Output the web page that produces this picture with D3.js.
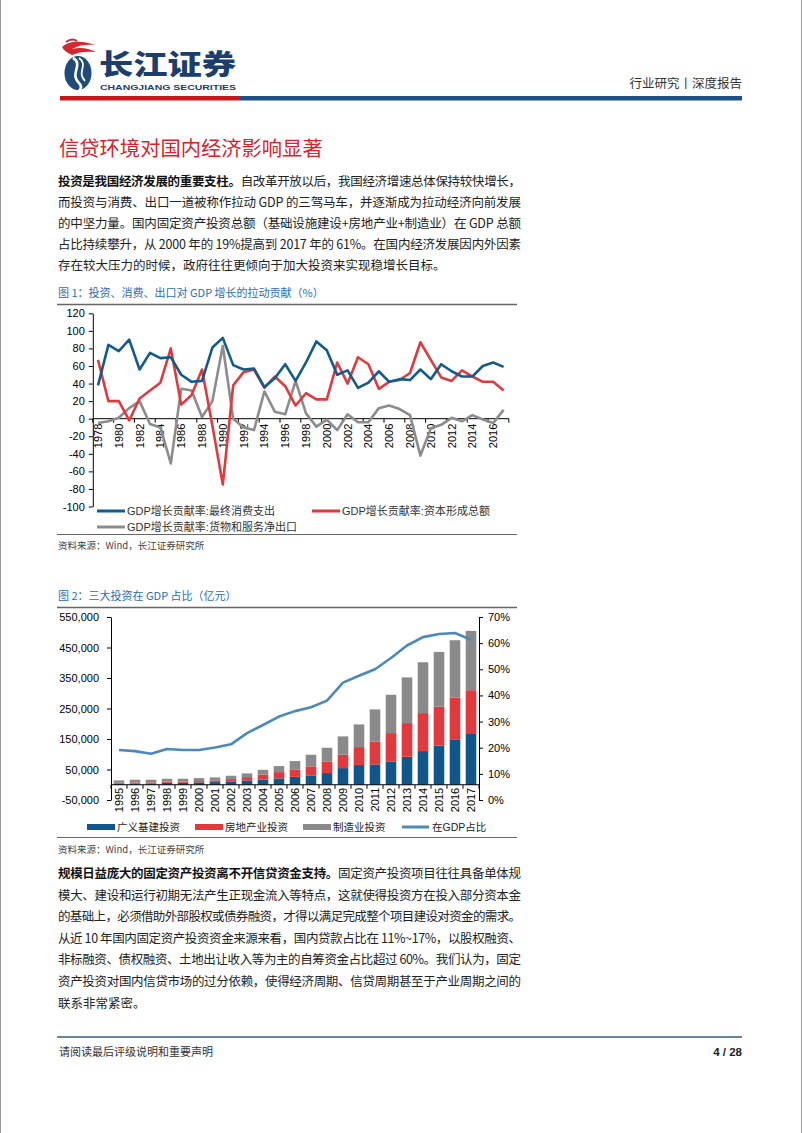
<!DOCTYPE html>
<html><head><meta charset="utf-8">
<script src="https://cdn.jsdelivr.net/npm/d3@7"></script>
<style>
html,body{margin:0;padding:0;background:#fff;}
svg{display:block;}
</style></head>
<body>
<svg id="page" width="802" height="1133"></svg>
<script>
// ---------------- DATA ----------------
const years1 = [1978,1979,1980,1981,1982,1983,1984,1985,1986,1987,1988,1989,1990,1991,1992,1993,1994,1995,1996,1997,1998,1999,2000,2001,2002,2003,2004,2005,2006,2007,2008,2009,2010,2011,2012,2013,2014,2015,2016,2017];
const consumption = [38,84,77,90,56,75,69,70,50,42,43,81,92,61,56,57,36,46,62,43,64,88,78,50,55,35,41,54,42,45,44,56,45,62,54,48,48,60,64,59];
const capitalFormation = [67,20,20,-2,23,32,41,80,16,27,56,-8,-75,38,53,56,35,48,37,15,29,22,22,64,40,70,62,34,42,44,52,87,67,47,43,55,48,42,42,32];
const netExports = [-5,-3,1,12,20,-6,-10,-51,34,32,2,20,83,0,-10,-13,31,8,5,43,6,-9,-1,-13,5,-4,-4,12,15,11,4,-42,-11,-7,1,-3,4,-1,-5,10];
const yTicks1 = [-100,-80,-60,-40,-20,0,20,40,60,80,100,120];
const series1Names = ["GDP增长贡献率:最终消费支出","GDP增长贡献率:资本形成总额","GDP增长贡献率:货物和服务净出口"];

const years2 = [1995,1996,1997,1998,1999,2000,2001,2002,2003,2004,2005,2006,2007,2008,2009,2010,2011,2012,2013,2014,2015,2016,2017];
const infra = [3300,4400,4400,6500,6500,7600,8700,11000,14200,16400,20800,26000,30600,38300,54600,64500,66700,76500,91800,110400,128500,149000,169000];
const realEstate = [3200,3200,3200,3300,3300,4400,5500,7600,10800,16600,20700,23000,29500,37100,43800,59000,75300,92900,110400,124600,127500,137000,141000];
const manufacturing = [7700,8800,8800,9900,9900,9900,9800,10900,12200,16000,19700,28600,38300,45900,60100,74300,105000,125600,149800,166700,179600,187900,194500];
const gdpShare = [19.1,18.7,17.7,19.5,19.1,19.1,20.1,21.3,25.6,28.7,31.9,34.0,35.5,38.0,44.9,47.5,50.0,54.3,59.1,62.3,63.5,63.9,61.3];
const yTicksLeft2 = [-50000,50000,150000,250000,350000,450000,550000];
const yTicksRight2 = [0,10,20,30,40,50,60,70];
const series2Names = ["广义基建投资","房地产业投资","制造业投资","在GDP占比"];

const titleText = "信贷环境对国内经济影响显著";
const para1Bold = "投资是我国经济发展的重要支柱。";
const para1Lines = [
  "自改革开放以后，我国经济增速总体保持较快增长，",
  "而投资与消费、出口一道被称作拉动 GDP 的三驾马车，并逐渐成为拉动经济向前发展",
  "的中坚力量。国内固定资产投资总额（基础设施建设+房地产业+制造业）在 GDP 总额",
  "占比持续攀升，从 2000 年的 19%提高到 2017 年的 61%。在国内经济发展因内外因素",
  "存在较大压力的时候，政府往往更倾向于加大投资来实现稳增长目标。"
];
const para2Bold = "规模日益庞大的固定资产投资离不开信贷资金支持。";
const para2Lines = [
  "固定资产投资项目往往具备单体规",
  "模大、建设和运行初期无法产生正现金流入等特点，这就使得投资方在投入部分资本金",
  "的基础上，必须借助外部股权或债券融资，才得以满足完成整个项目建设对资金的需求。",
  "从近 10 年国内固定资产投资资金来源来看，国内贷款占比在 11%~17%，以股权融资、",
  "非标融资、债权融资、土地出让收入等为主的自筹资金占比超过 60%。我们认为，固定",
  "资产投资对国内信贷市场的过分依赖，使得经济周期、信贷周期甚至于产业周期之间的",
  "联系非常紧密。"
];
const fig1Caption = "图 1：投资、消费、出口对 GDP 增长的拉动贡献（%）";
const fig2Caption = "图 2：三大投资在 GDP 占比（亿元）";
const sourceText = "资料来源：Wind，长江证券研究所";

// ---------------- PAGE ----------------
const FONT = "'Liberation Sans', Arial, 'Noto Sans CJK SC', sans-serif";
const svg = d3.select("#page").style("font-family", FONT);

// page edges
svg.append("line").attr("x1",0.5).attr("x2",0.5).attr("y1",0).attr("y2",1133).attr("stroke","#9a9a9a");
svg.append("line").attr("x1",801.5).attr("x2",801.5).attr("y1",0).attr("y2",1133).attr("stroke","#9a9a9a");

// logo
const logo = svg.append("g");
logo.append("path").attr("d","M62,47 C70,40 82,41 95,45 C86,44 78,45 72,49 C80,47 88,48 96,52 C86,51 78,52 72,55 C68,53 64,51 62,47 Z").attr("fill","#d7262c");
logo.append("path").attr("d","M66,42 C70,39 74,39 77,41").attr("stroke","#d7262c").attr("stroke-width",2).attr("fill","none");
logo.append("ellipse").attr("cx",78).attr("cy",73).attr("rx",13.5).attr("ry",17).attr("fill","#1f4a7a");
logo.append("path").attr("d","M73,58 C84,64 69,74 79,83 C82,86 81,89 79,91").attr("stroke","#fff").attr("stroke-width",2.6).attr("fill","none");
logo.append("path").attr("d","M79,58 C89,65 76,72 85,81").attr("stroke","#fff").attr("stroke-width",1.8).attr("fill","none");
logo.append("text").attr("x",99).attr("y",75).attr("font-size",28).attr("font-weight",900)
  .attr("font-family","'Noto Sans CJK SC', sans-serif").attr("fill","#1c3e6c")
  .attr("textLength",137).attr("lengthAdjust","spacingAndGlyphs").text("长江证券");
logo.append("text").attr("x",100).attr("y",90).attr("font-size",8).attr("font-weight",700)
  .attr("fill","#1c3e6c").attr("textLength",136).attr("lengthAdjust","spacingAndGlyphs").text("CHANGJIANG SECURITIES");

svg.append("text").attr("x",742).attr("y",88).attr("text-anchor","end").attr("font-size",12.5)
  .attr("font-family","'Noto Sans CJK SC', sans-serif").attr("fill","#333").text("行业研究丨深度报告");

svg.append("rect").attr("x",60).attr("y",96).attr("width",180).attr("height",4.5).attr("fill","#c8161d");
svg.append("rect").attr("x",240).attr("y",96).attr("width",502).attr("height",4.5).attr("fill","#1b4f86");

// title
svg.append("text").attr("x",59).attr("y",156).attr("font-size",20.3).attr("fill","#d9232b")
  .attr("font-family","'Noto Sans CJK SC', sans-serif").text(titleText);

// paragraphs
const TX0 = 58, TW = 463;
function paragraph(boldPart, lines, y0, lh){
  lines.forEach((ln,i)=>{
    const t = svg.append("text").attr("x",TX0).attr("y",y0+i*lh).attr("font-size",12.5).attr("fill","#222")
      .attr("font-family","'Noto Sans CJK SC', sans-serif");
    if(i===0){ t.append("tspan").attr("font-weight",700).attr("fill","#111").text(boldPart); }
    t.append("tspan").text(ln);
    if(i < lines.length-1){ t.attr("textLength",TW).attr("lengthAdjust","spacing"); }
  });
}
paragraph(para1Bold, para1Lines, 186, 21);
paragraph(para2Bold, para2Lines, 878, 21.6);

// figure captions / rules
function caption(txt, y){
  svg.append("text").attr("x",58).attr("y",y).attr("font-size",11).attr("fill","#2a6db3")
    .attr("font-family","'Noto Sans CJK SC', sans-serif").text(txt);
}
function rule(y, w){ svg.append("line").attr("x1",57).attr("x2",517).attr("y1",y).attr("y2",y).attr("stroke","#666").attr("stroke-width",w); }
function source(y){
  svg.append("text").attr("x",58).attr("y",y).attr("font-size",9.5).attr("fill","#444")
    .attr("font-family","'Noto Sans CJK SC', sans-serif").text(sourceText);
}
caption(fig1Caption, 297);
rule(304.5, 1.5);
rule(534.5, 1.2);
source(549);
caption(fig2Caption, 600);
rule(607.5, 1.5);
rule(837.5, 1.2);
source(853);

// ---------------- CHART 1 ----------------
const c1 = svg.append("g");
const x1 = d3.scaleBand().domain(years1).range([92.8, 508.8]);
const cx1 = d => x1(d) + x1.bandwidth()/2;
const y1 = d3.scaleLinear().domain([-100,120]).range([506.5, 313.3]);
const fmtNum = d => (d<0?"-":"") + d3.format(",")(Math.abs(d));

const ax1 = c1.append("g").attr("transform","translate(92.8,0)")
  .call(d3.axisLeft(y1).tickValues(yTicks1).tickSize(4).tickSizeOuter(0).tickFormat(fmtNum));
ax1.selectAll("text").attr("font-size",11).attr("font-family",FONT).attr("fill","#000").attr("dx",-1);
ax1.select(".domain").attr("stroke","#000");
// x axis at 0
const y0 = y1(0);
c1.append("line").attr("x1",92.8).attr("x2",508.8).attr("y1",y0).attr("y2",y0).attr("stroke","#000");
years1.forEach((yr,i)=>{
  if(i%2===0){
    c1.append("line").attr("x1",x1(yr)).attr("x2",x1(yr)).attr("y1",y0).attr("y2",y0+4).attr("stroke","#000");
    c1.append("text").attr("transform",`translate(${cx1(yr)+4},${y0+5}) rotate(-90)`)
      .attr("text-anchor","end").attr("font-size",11).attr("fill","#000").text(yr);
  }
});
c1.append("line").attr("x1",508.8).attr("x2",508.8).attr("y1",y0).attr("y2",y0+4).attr("stroke","#000");

const colors1 = ["#125b8c","#e0393e","#8c8c8c"];
const seriesData1 = [consumption, capitalFormation, netExports];
const line1 = d3.line().x((d,i)=>cx1(years1[i])).y(d=>y1(d));
[2,1,0].forEach(k=>{
  c1.append("path").datum(seriesData1[k]).attr("d",line1).attr("fill","none")
    .attr("stroke",colors1[k]).attr("stroke-width",2.6).attr("stroke-linejoin","round");
});
// legend 1
const leg1 = [[97,511],[312,511],[97,527]];
leg1.forEach((p,k)=>{
  c1.append("line").attr("x1",p[0]).attr("x2",p[0]+28).attr("y1",p[1]).attr("y2",p[1]).attr("stroke",colors1[k]).attr("stroke-width",3);
  c1.append("text").attr("x",p[0]+30).attr("y",p[1]+4).attr("font-size",11).attr("fill","#333").text(series1Names[k]);
});

// ---------------- CHART 2 ----------------
const c2 = svg.append("g");
const x2 = d3.scaleBand().domain(years2).range([111, 479]).paddingInner(0.34).paddingOuter(0.17);
const step2 = x2.step();
const y2 = d3.scaleLinear().domain([-50000, 550000]).range([800, 617]);
const yR = d3.scaleLinear().domain([0, 70]).range([800, 617]);

const table2 = years2.map((yr,i)=>({year:yr, infra:infra[i], realEstate:realEstate[i], manufacturing:manufacturing[i]}));
const keys2 = ["infra","realEstate","manufacturing"];
const colors2 = ["#0f5689","#e2393f","#8a8a8a"];
const stack = d3.stack().keys(keys2)(table2);
stack.forEach((layer,k)=>{
  c2.append("g").selectAll("rect").data(layer).join("rect")
    .attr("x",d=>x2(d.data.year)).attr("width",x2.bandwidth())
    .attr("y",d=>y2(d[1])).attr("height",d=>y2(d[0])-y2(d[1]))
    .attr("fill",colors2[k]);
});

const axL = c2.append("g").attr("transform","translate(111,0)")
  .call(d3.axisLeft(y2).tickValues(yTicksLeft2).tickSize(4).tickSizeOuter(0).tickFormat(fmtNum));
axL.selectAll("text").attr("font-size",11).attr("font-family",FONT).attr("fill","#000").attr("dx",-5);
axL.select(".domain").attr("stroke","#000");
const axR = c2.append("g").attr("transform","translate(479,0)")
  .call(d3.axisRight(yR).tickValues(yTicksRight2).tickSize(4).tickSizeOuter(0).tickFormat(d=>d+"%"));
axR.selectAll("text").attr("font-size",11).attr("font-family",FONT).attr("fill","#000").attr("dx",2);
axR.select(".domain").attr("stroke","#000");

const base2 = y2(0);
c2.append("line").attr("x1",111).attr("x2",479).attr("y1",base2).attr("y2",base2).attr("stroke","#000");
years2.forEach((yr,i)=>{
  const bx = x2(yr) - x2.paddingInner()*step2/2;
  c2.append("line").attr("x1",bx).attr("x2",bx).attr("y1",base2).attr("y2",base2+4).attr("stroke","#000");
  c2.append("text").attr("transform",`translate(${x2(yr)+x2.bandwidth()/2+4},${base2+3}) rotate(-90)`)
    .attr("text-anchor","end").attr("font-size",11).attr("fill","#000").text(yr);
});
c2.append("line").attr("x1",479).attr("x2",479).attr("y1",base2).attr("y2",base2+4).attr("stroke","#000");

const line2 = d3.line().x((d,i)=>x2(years2[i])+x2.bandwidth()/2).y(d=>yR(d));
c2.append("path").datum(gdpShare).attr("d",line2).attr("fill","none").attr("stroke","#4a89b9")
  .attr("stroke-width",2.6).attr("stroke-linejoin","round");

// legend 2
const leg2x = [87,195,303,402];
leg2x.forEach((lx,k)=>{
  if(k<3){
    c2.append("rect").attr("x",lx).attr("y",824).attr("width",28).attr("height",6).attr("fill",colors2[k]);
  } else {
    c2.append("line").attr("x1",lx).attr("x2",lx+27).attr("y1",827).attr("y2",827).attr("stroke","#4a89b9").attr("stroke-width",3);
  }
  c2.append("text").attr("x",lx+30).attr("y",831).attr("font-size",10.5).attr("fill","#222").text(series2Names[k]);
});

// ---------------- FOOTER ----------------
svg.append("line").attr("x1",57).attr("x2",742).attr("y1",1037).attr("y2",1037).attr("stroke","#2f5f7f").attr("stroke-width",1.5);
svg.append("text").attr("x",59).attr("y",1056).attr("font-size",11).attr("fill","#333")
  .attr("font-family","'Noto Sans CJK SC', sans-serif").text("请阅读最后评级说明和重要声明");
svg.append("text").attr("x",742).attr("y",1056).attr("text-anchor","end").attr("font-size",11.5).attr("font-weight",700).attr("fill","#222").text("4 / 28");
</script>
</body></html>
